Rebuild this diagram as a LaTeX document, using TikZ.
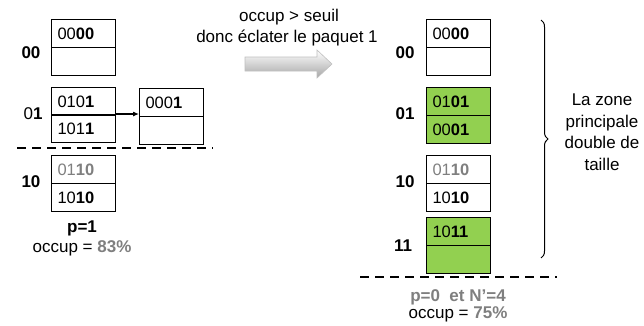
\documentclass[tikz,border=0pt]{standalone}
\usepackage{fontspec}
\setmainfont{Liberation Sans}
\usetikzlibrary{arrows.meta,decorations.pathreplacing,shadings}
\definecolor{cellgreen}{HTML}{92D050}
\definecolor{txtgray}{HTML}{7F7F7F}
\begin{document}
\begin{tikzpicture}[x=1pt,y=-1pt,
  cell/.style={draw=black,line width=1.1pt,minimum height=28pt,text width=52pt,inner xsep=6pt,inner ysep=0pt,align=left,anchor=north west,font=\fontsize{16.5}{18}\selectfont},
  gcell/.style={cell,fill=cellgreen},
  lbl/.style={font=\fontsize{17}{19}\selectfont},
  sep/.style={line width=2.2pt,dash pattern=on 9pt off 6pt},
  every node/.style={font=\fontsize{17}{19}\selectfont}]
\useasboundingbox (0,0) rectangle (644,325);

% ---- left: before split
\node[cell] (L00a) at (51,19) {00\textbf{00}};
\node[cell] (L00b) at (51,47) {};
\node[cell] (L01a) at (51,87) {010\textbf{1}};
\node[cell] (L01b) at (51,114) {101\textbf{1}};
\node[cell] (L10a) at (51,155) {\textcolor{txtgray}{01\textbf{10}}};
\node[cell] (L10b) at (51,183) {10\textbf{10}};
\node[cell] (O1a) at (139,88) {000\textbf{1}};
\node[cell] (O1b) at (139,116) {};
\draw[line width=1.1pt,-{Latex[length=6pt,width=5pt]}] (L01b.north east) -- (L01b.north east -| O1b.west);

\node[lbl] (k00) at (31,53) {\textbf{00}};
\node[lbl] (k01) at (33,114) {0\textbf{1}};
\node[lbl] (k10) at (31,182) {\textbf{10}};

\coordinate (dlA) at (17,148);
\coordinate (dlB) at (213,148);
\draw[sep] (dlA) -- (dlB);

\node (p1) at (82,228) {\textbf{p=1}};
\node (oc1) at (82,248) {occup = \textcolor{txtgray}{\textbf{83\%}}};

% ---- middle: text and arrow
\node (t1) at (289,17) {occup > seuil};
\node (t2) at (287,38) {donc éclater le paquet 1};
\shade[top color=white,bottom color=black!35,draw=black!25,line width=0.6pt]
  (245,57) -- (317,57) -- (317,50) -- (332,64) -- (317,78) -- (317,71) -- (245,71) -- cycle;

% ---- right: after split
\node[cell] (R00a) at (426,19) {00\textbf{00}};
\node[cell] (R00b) at (426,47) {};
\node[gcell] (R01a) at (426,87) {01\textbf{01}};
\node[gcell] (R01b) at (426,115) {00\textbf{01}};
\node[cell] (R10a) at (426,155) {\textcolor{txtgray}{01\textbf{10}}};
\node[cell] (R10b) at (426,183) {10\textbf{10}};
\node[gcell] (R11a) at (426,217) {10\textbf{11}};
\node[gcell] (R11b) at (426,245) {};

\node[lbl] (q00) at (405,53) {\textbf{00}};
\node[lbl] (q01) at (405,114) {\textbf{01}};
\node[lbl] (q10) at (405,182) {\textbf{10}};
\node[lbl] (q11) at (403,246) {\textbf{11}};

\coordinate (drA) at (360,277);
\coordinate (drB) at (557,277);
\draw[sep] (drA) -- (drB);

\coordinate (brT) at (541,20);
\coordinate (brB) at (541,258);
\draw[line width=1pt,decorate,decoration={brace,amplitude=7pt}] (brT) -- (brB);
\node[align=center,font=\fontsize{17}{21.5}\selectfont] (zone) at (602,132) {La zone\\principale\\double de\\taille};

\node (p0) at (458,297) {\textcolor{txtgray}{\textbf{p=0~ et N{\char"27}=4}}};
\node (oc2) at (458,314) {occup = \textcolor{txtgray}{\textbf{75\%}}};
\end{tikzpicture}
\end{document}
